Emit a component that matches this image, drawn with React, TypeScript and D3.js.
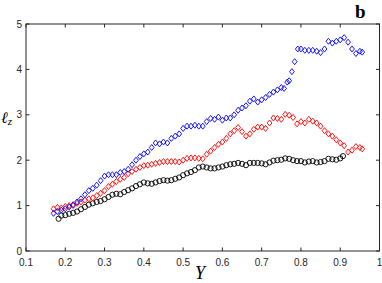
import React from "react";
import * as d3 from "d3";

const blackX = [0.183,0.19,0.20,0.21,0.22,0.23,0.24,0.25,0.26,0.27,0.28,0.29,0.30,0.31,0.32,0.33,0.34,0.35,0.36,0.37,0.38,0.39,0.40,0.41,0.42,0.43,0.44,0.45,0.46,0.47,0.48,0.49,0.50,0.51,0.52,0.53,0.54,0.55,0.56,0.57,0.58,0.59,0.60,0.61,0.62,0.63,0.64,0.65,0.66,0.67,0.68,0.69,0.70,0.71,0.72,0.73,0.74,0.75,0.76,0.77,0.78,0.79,0.80,0.81,0.82,0.83,0.84,0.85,0.86,0.87,0.88,0.89,0.90,0.907];
const blackY = [0.71,0.78,0.79,0.82,0.84,0.87,0.92,0.97,1.02,1.05,1.08,1.10,1.14,1.19,1.24,1.26,1.25,1.30,1.34,1.38,1.43,1.47,1.51,1.49,1.48,1.51,1.54,1.56,1.55,1.56,1.59,1.62,1.67,1.71,1.74,1.78,1.84,1.86,1.84,1.82,1.82,1.84,1.86,1.89,1.91,1.92,1.94,1.92,1.89,1.94,1.94,1.94,1.93,1.91,1.95,1.99,2.00,2.01,2.04,2.03,2.00,1.98,1.98,1.95,1.97,1.98,1.95,1.96,1.98,2.03,2.02,2.01,2.04,2.09];

const redX = [0.17,0.18,0.19,0.20,0.21,0.22,0.23,0.24,0.25,0.26,0.27,0.28,0.29,0.30,0.31,0.32,0.33,0.34,0.35,0.36,0.37,0.38,0.39,0.40,0.41,0.42,0.43,0.44,0.45,0.46,0.47,0.48,0.49,0.50,0.51,0.52,0.53,0.54,0.55,0.56,0.57,0.58,0.59,0.60,0.61,0.62,0.63,0.64,0.65,0.66,0.67,0.68,0.69,0.70,0.71,0.72,0.73,0.74,0.75,0.76,0.77,0.78,0.79,0.80,0.81,0.82,0.83,0.84,0.85,0.86,0.87,0.88,0.89,0.90,0.91,0.92,0.93,0.94,0.95,0.956];
const redY = [0.93,0.96,0.95,0.98,1.00,1.00,1.05,1.08,1.12,1.15,1.17,1.22,1.27,1.33,1.42,1.47,1.53,1.58,1.62,1.70,1.75,1.80,1.84,1.88,1.89,1.91,1.93,1.95,1.97,1.97,1.97,1.97,1.96,2.00,2.04,2.05,2.05,2.04,2.03,2.13,2.20,2.28,2.35,2.40,2.48,2.58,2.65,2.72,2.63,2.53,2.58,2.68,2.73,2.73,2.70,2.82,2.93,2.92,2.90,3.01,2.99,2.94,2.80,2.85,2.82,2.90,2.86,2.82,2.75,2.65,2.58,2.53,2.45,2.38,2.32,2.18,2.22,2.30,2.28,2.25];

const blueX = [0.17,0.18,0.19,0.20,0.21,0.22,0.23,0.24,0.25,0.26,0.27,0.28,0.29,0.30,0.31,0.32,0.33,0.34,0.35,0.36,0.37,0.38,0.39,0.40,0.41,0.42,0.43,0.44,0.45,0.46,0.47,0.48,0.49,0.50,0.51,0.52,0.53,0.54,0.55,0.56,0.57,0.58,0.59,0.60,0.61,0.62,0.63,0.64,0.65,0.66,0.67,0.68,0.69,0.70,0.71,0.72,0.73,0.74,0.75,0.757,0.765,0.77,0.777,0.784,0.792,0.80,0.81,0.82,0.83,0.84,0.85,0.86,0.87,0.88,0.89,0.90,0.91,0.92,0.93,0.94,0.95,0.956];
const blueY = [0.83,0.87,0.90,0.93,0.97,1.02,1.08,1.15,1.24,1.33,1.38,1.45,1.55,1.65,1.68,1.68,1.68,1.73,1.75,1.80,1.90,2.00,2.08,2.14,2.18,2.28,2.38,2.36,2.40,2.38,2.48,2.53,2.58,2.70,2.75,2.75,2.77,2.75,2.75,2.85,2.92,2.90,2.95,2.88,2.93,2.93,3.00,3.10,3.15,3.20,3.30,3.35,3.28,3.33,3.38,3.45,3.50,3.55,3.60,3.58,3.72,3.75,3.95,4.17,4.45,4.45,4.42,4.42,4.42,4.40,4.37,4.45,4.62,4.58,4.62,4.65,4.70,4.60,4.45,4.35,4.40,4.38];

const xTicks = [0.1,0.2,0.3,0.4,0.5,0.6,0.7,0.8,0.9,1];
const yTicks = [0,1,2,3,4,5];

const W = 382, H = 283;
const L = 26, R = 379.5, T = 24, B = 251;
const axisColor = "#262626";
const font = "'Liberation Sans', Arial, Helvetica, sans-serif";
const serif = "'Liberation Serif', 'DejaVu Serif', serif";

export default function App() {
  const x = d3.scaleLinear().domain([0.1, 1]).range([L, R]);
  const y = d3.scaleLinear().domain([0, 5]).range([B, T]);
  const diamond = (cx: number, cy: number, r = 3) =>
    `M${cx},${cy - r}L${cx + r * 0.8},${cy}L${cx},${cy + r}L${cx - r * 0.8},${cy}Z`;
  const tl = 3.5;
  return (
    <svg width={W} height={H} style={{ position: "absolute", left: 0, top: 0, background: "#fff" }}>
      <rect x={0} y={0} width={W} height={H} fill="#fff" />
      <rect x={L} y={T} width={R - L} height={B - T} fill="none" stroke={axisColor} strokeWidth={1} />
      {xTicks.map((t) => (
        <g key={"x" + t}>
          <line x1={x(t)} x2={x(t)} y1={B} y2={B - tl} stroke={axisColor} />
          <line x1={x(t)} x2={x(t)} y1={T} y2={T + tl} stroke={axisColor} />
          <text x={x(t)} y={266} fontSize={10} fontFamily={font} fill={axisColor} textAnchor="middle">
            {t === 1 ? "1" : t.toFixed(1)}
          </text>
        </g>
      ))}
      {yTicks.map((t) => (
        <g key={"y" + t}>
          <line x1={L} x2={L + tl} y1={y(t)} y2={y(t)} stroke={axisColor} />
          <line x1={R} x2={R - tl} y1={y(t)} y2={y(t)} stroke={axisColor} />
          <text x={22} y={y(t) + 3.5} fontSize={10} fontFamily={font} fill={axisColor} textAnchor="end">
            {t}
          </text>
        </g>
      ))}
      {blackX.map((v, i) => (
        <circle key={"k" + i} cx={x(v)} cy={y(blackY[i])} r={2.6} fill="none" stroke="#000" strokeWidth={0.9} />
      ))}
      {redX.map((v, i) => (
        <path key={"r" + i} d={diamond(x(v), y(redY[i]))} fill="none" stroke="#ff0000" strokeWidth={0.9} />
      ))}
      {blueX.map((v, i) => (
        <path key={"b" + i} d={diamond(x(v), y(blueY[i]))} fill="none" stroke="#0000ff" strokeWidth={0.9} />
      ))}
      <text x={200} y={279} fontSize={18} fontFamily={serif} fontStyle="italic" textAnchor="middle" fill="#000">
        Y
      </text>
      <text x={1} y={123} fontSize={16} fontFamily={serif} fontStyle="italic" fill="#000">
        ℓ<tspan fontSize={11} dy={2}>z</tspan>
      </text>
      <text x={355} y={18} fontSize={19} fontWeight="bold" fontFamily={serif} fill="#000">
        b
      </text>
    </svg>
  );
}
